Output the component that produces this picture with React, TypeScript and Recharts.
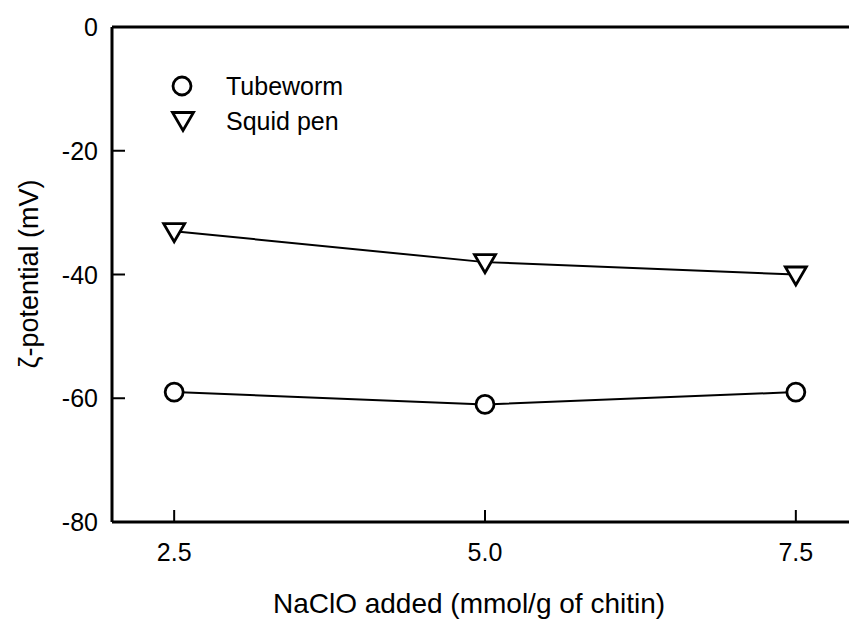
import React from "react";
import {
  LineChart,
  Line,
  XAxis,
  YAxis,
  ReferenceLine,
  Legend,
} from "recharts";

// NaClO dose (mmol/g of chitin)
const doses = [2.5, 5.0, 7.5];
// zeta-potential (mV)
const tubeworm = [-59, -61, -59];
const squidPen = [-33, -38, -40];

const xTicks = [2.5, 5.0, 7.5];
const yTicks = [0, -20, -40, -60, -80];

const seriesNames = ["Tubeworm", "Squid pen"];

const data = doses.map((d, i) => ({
  dose: d,
  tubeworm: tubeworm[i],
  squid: squidPen[i],
}));

const FONT = "'Liberation Sans', Arial, Helvetica, sans-serif";

const CircleDot = (props: any) => {
  const { cx, cy } = props;
  if (cx == null || cy == null) return null;
  return (
    <circle cx={cx} cy={cy} r={9} fill="#fff" stroke="#000" strokeWidth={2.8} />
  );
};

const TriangleDot = (props: any) => {
  const { cx, cy } = props;
  if (cx == null || cy == null) return null;
  const pts = `${cx - 10.5},${cy - 7.5} ${cx + 10.5},${cy - 7.5} ${cx},${cy + 10.5}`;
  return (
    <polygon points={pts} fill="#fff" stroke="#000" strokeWidth={2.8} strokeLinejoin="miter" />
  );
};

const YTick = (props: any) => {
  const { x, y, payload } = props;
  return (
    <g>
      <line x1={x} y1={y} x2={x + 13} y2={y} stroke="#000" strokeWidth={2} />
      <text x={x - 14} y={y} dy="0.36em" textAnchor="end" fontSize={25} fontFamily={FONT} fill="#000">
        {payload.value}
      </text>
    </g>
  );
};

const XTick = (props: any) => {
  const { x, y, payload } = props;
  return (
    <g>
      <line x1={x} y1={y} x2={x} y2={y - 12} stroke="#000" strokeWidth={2} />
      <text x={x} y={y + 39} textAnchor="middle" fontSize={25} fontFamily={FONT} fill="#000">
        {Number(payload.value).toFixed(1)}
      </text>
    </g>
  );
};

const LegendContent = () => (
  <svg width={220} height={70} style={{ display: "block" }}>
    <CircleDot cx={22} cy={17} />
    <text x={66} y={17} dy="0.36em" fontSize={25} fontFamily={FONT} fill="#000">
      {seriesNames[0]}
    </text>
    <TriangleDot cx={23} cy={51} />
    <text x={66} y={52} dy="0.36em" fontSize={25} fontFamily={FONT} fill="#000">
      {seriesNames[1]}
    </text>
  </svg>
);

export default function App() {
  return (
    <div
      style={{
        position: "absolute",
        left: 0,
        top: 0,
        width: 849,
        height: 619,
        overflow: "hidden",
        background: "#fff",
      }}
    >
      <LineChart
        width={870}
        height={619}
        data={data}
        margin={{ top: 27, right: 12, bottom: 67, left: 0 }}
      >
        <XAxis
          dataKey="dose"
          type="number"
          domain={[2, 8]}
          ticks={xTicks}
          height={30}
          tickSize={0}
          tickMargin={0}
          tickLine={false}
          tick={<XTick />}
          axisLine={{ stroke: "#000", strokeWidth: 3 }}
          label={{
            content: () => (
              <text x={469} y={613} textAnchor="middle" fontSize={28} fontFamily={FONT} fill="#000">
                NaClO added (mmol/g of chitin)
              </text>
            ),
          }}
        />
        <YAxis
          type="number"
          domain={[-80, 0]}
          ticks={yTicks}
          width={112}
          tickSize={0}
          tickMargin={0}
          tickLine={false}
          tick={<YTick />}
          axisLine={{ stroke: "#000", strokeWidth: 3 }}
          label={{
            content: () => (
              <text
                x={38}
                y={274}
                transform="rotate(-90, 38, 274)"
                textAnchor="middle"
                fontSize={27}
                fontFamily={FONT}
                fill="#000"
              >
                ζ-potential (mV)
              </text>
            ),
          }}
        />
        <ReferenceLine y={0} stroke="#000" strokeWidth={3} />
        <Legend
          layout="vertical"
          align="center"
          verticalAlign="middle"
          content={<LegendContent />}
          wrapperStyle={{ position: "absolute", left: 160, top: 69, width: 220, height: 70 }}
        />
        <Line
          dataKey="tubeworm"
          stroke="#000"
          strokeWidth={2}
          dot={<CircleDot />}
          activeDot={false}
          isAnimationActive={false}
          name={seriesNames[0]}
        />
        <Line
          dataKey="squid"
          stroke="#000"
          strokeWidth={2}
          dot={<TriangleDot />}
          activeDot={false}
          isAnimationActive={false}
          name={seriesNames[1]}
        />
      </LineChart>
    </div>
  );
}
